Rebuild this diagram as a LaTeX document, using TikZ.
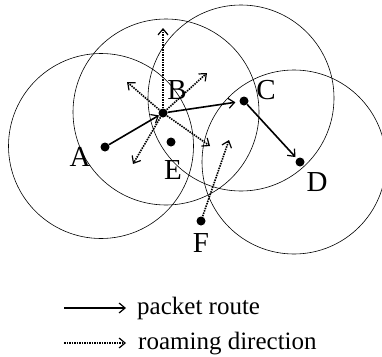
\documentclass[tikz,border=0pt]{standalone}
\usepackage{fontspec}
\setmainfont{Liberation Serif}
\usetikzlibrary{arrows.meta}
\begin{document}
\begin{tikzpicture}[x=1pt,y=-1pt,
  rng/.style={line width=0.6pt},
  dot/.style={circle,fill=black,inner sep=0pt,minimum size=9pt},
  lbl/.style={font=\fontsize{29}{32}\selectfont,inner sep=0pt},
  leg/.style={font=\fontsize{25}{28}\selectfont,inner sep=0pt,anchor=base west},
  route/.style={line width=1.6pt,-{Straight Barb[length=6pt,width=10pt,line width=1.2pt]}},
  roam/.style={line width=1.6pt,dash pattern=on 1.5pt off 1pt,-{Straight Barb[length=6pt,width=10pt,line width=1.2pt]}}]
\useasboundingbox (0,0) rectangle (382,356);
% circles
\draw[rng] (101,146) circle (92.5);
\draw[rng] (166,112) circle (93);
\draw[rng] (241,98) circle (93);
\draw[rng] (294,162) circle (92);
% nodes
\node[dot] (A) at (105,147) {};
\node[dot] (B) at (163,113) {};
\node[dot] (C) at (244,101) {};
\node[dot] (D) at (300,162) {};
\node[dot] (E) at (171,142) {};
\node[dot] (F) at (201,221) {};
% labels
\node[lbl] (lA) at (80,157) {A};
\node[lbl] (lB) at (177,90) {B};
\node[lbl] (lC) at (266,90) {C};
\node[lbl] (lD) at (317,182) {D};
\node[lbl] (lE) at (173,170) {E};
\node[lbl] (lF) at (201,243) {F};
% roaming targets
\coordinate (r1) at (163,28);
\coordinate (r2) at (207,73);
\coordinate (r3) at (127,82);
\coordinate (r4) at (133,164);
\coordinate (r5) at (210,146);
\coordinate (r6) at (229,140);
% routes
\draw[route] (A) -- (B);
\draw[route,shorten >=4pt] (B) -- (C);
\draw[route,shorten >=2pt] (C) -- (D);
% roaming
\draw[roam] (B.center) -- (r1);
\draw[roam] (B.center) -- (r2);
\draw[roam] (B.center) -- (r3);
\draw[roam] (B.center) -- (r4);
\draw[roam] (B.center) -- (r5);
\draw[roam] (F.center) -- (r6);
% legend
\coordinate (s1) at (64,308);
\coordinate (e1) at (126,308);
\coordinate (s2) at (64,343);
\coordinate (e2) at (126,343);
\draw[route] (s1) -- (e1);
\draw[roam,line width=1.2pt] (s2) -- (e2);
\node[leg] (t1) at (137,314) {packet route};
\node[leg] (t2) at (138,349) {roaming direction};
\end{tikzpicture}
\end{document}
